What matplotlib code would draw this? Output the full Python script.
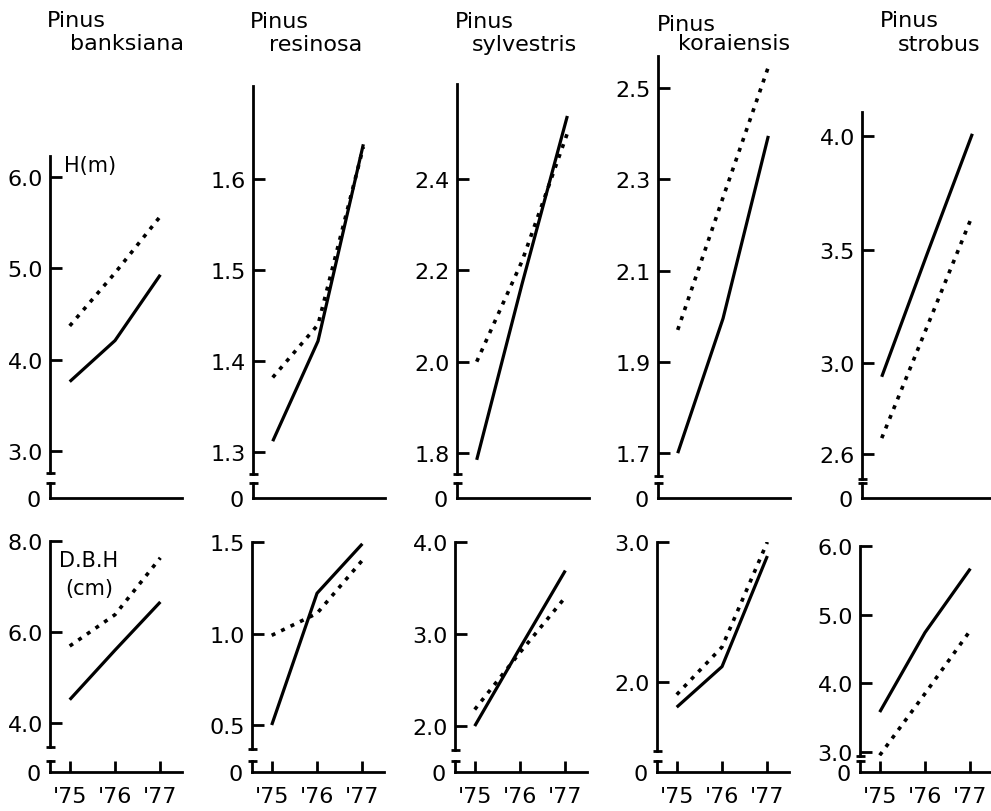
import matplotlib.pyplot as plt
from matplotlib.ticker import FormatStrFormatter

# figure size in pixels (dpi 100)
W, H = 991, 812

years = [75, 76, 77]
year_labels = ["'75", "'76", "'77"]
species = ["banksiana", "resinosa", "sylvestris", "koraiensis", "strobus"]

# Height H(m), solid and dotted series, for '75 '76 '77
banksiana_h_solid = [3.76, 4.21, 4.93]
banksiana_h_dotted = [4.37, 4.95, 5.57]
resinosa_h_solid = [1.312, 1.422, 1.638]
resinosa_h_dotted = [1.382, 1.44, 1.635]
sylvestris_h_solid = [1.785, 2.17, 2.538]
sylvestris_h_dotted = [2.0, 2.22, 2.50]
koraiensis_h_solid = [1.70, 1.995, 2.395]
koraiensis_h_dotted = [1.97, 2.26, 2.546]
strobus_h_solid = [2.94, 3.48, 4.01]
strobus_h_dotted = [2.67, 3.16, 3.65]

# Diameter D.B.H (cm)
banksiana_d_solid = [4.51, 5.6, 6.66]
banksiana_d_dotted = [5.69, 6.38, 7.63]
resinosa_d_solid = [0.5, 1.22, 1.49]
resinosa_d_dotted = [0.99, 1.11, 1.40]
sylvestris_d_solid = [2.0, 2.85, 3.69]
sylvestris_d_dotted = [2.18, 2.80, 3.40]
koraiensis_d_solid = [1.82, 2.11, 2.90]
koraiensis_d_dotted = [1.91, 2.25, 3.0]
strobus_d_solid = [3.58, 4.74, 5.67]
strobus_d_dotted = [2.95, 3.85, 4.77]

# tick values on the broken y axes
top_yticks = [[3, 4, 5, 6], [1.3, 1.4, 1.5, 1.6], [1.8, 2.0, 2.2, 2.4],
              [1.7, 1.9, 2.1, 2.3, 2.5], [2.6, 3.0, 3.5, 4.0]]
bottom_yticks = [[4, 6, 8], [0.5, 1.0, 1.5], [2, 3, 4], [2, 3], [3, 4, 5, 6]]

height_solid = [banksiana_h_solid, resinosa_h_solid, sylvestris_h_solid, koraiensis_h_solid, strobus_h_solid]
height_dotted = [banksiana_h_dotted, resinosa_h_dotted, sylvestris_h_dotted, koraiensis_h_dotted, strobus_h_dotted]
dbh_solid = [banksiana_d_solid, resinosa_d_solid, sylvestris_d_solid, koraiensis_d_solid, strobus_d_solid]
dbh_dotted = [banksiana_d_dotted, resinosa_d_dotted, sylvestris_d_dotted, koraiensis_d_dotted, strobus_d_dotted]

# layout (pixels)
top_lefts = [50, 253, 457, 658, 862]
bottom_lefts = [50, 252, 455, 657, 860]
top_tops = [157, 87, 85, 57, 113]
top_breaks = [474, 475, 475, 477, 480]
top_ylims = [(2.76, 6.23), (1.276, 1.702), (1.754, 2.608), (1.650, 2.570), (2.49, 4.106)]
bottom_tops = [542, 543, 543, 543, 547]
bottom_breaks = [748, 750, 751, 752, 757]
bottom_ylims = [(3.47, 8.0), (0.369, 1.5), (1.74, 4.0), (1.507, 3.0), (2.94, 6.0)]
panel_w = 132
xlim = (74.565, 77.478)

title_x = [(47, 70), (250, 269), (455, 472), (657, 678), (880, 898)]
title_y = [(27, 50), (28, 51), (28, 51), (31, 50), (27, 51)]

plt.rcParams['font.family'] = ['DejaVu Sans']
fig = plt.figure(figsize=(W / 100, H / 100), dpi=100)


def box(left, top, bottom, width):
    return [left / W, 1 - bottom / H, width / W, (bottom - top) / H]


def cap(ax, y):
    # small bar at the end of the broken y axis
    half = 4.5 / panel_w
    ax.plot([-half, half], [y, y], color='black', lw=2, transform=ax.transAxes,
            clip_on=False, solid_capstyle='butt')


def draw_panel(left, top, brk, base_top, baseline, ylim, yticks, solid, dotted, show_years):
    ax = fig.add_axes(box(left, top, brk, panel_w))
    ax.set_xlim(xlim)
    ax.set_ylim(ylim)
    for s in ['top', 'right', 'bottom']:
        ax.spines[s].set_visible(False)
    ax.spines['left'].set_linewidth(2)
    ax.set_xticks([])
    ax.set_yticks(yticks)
    ax.yaxis.set_major_formatter(FormatStrFormatter('%.1f'))
    ax.tick_params(axis='y', direction='in', length=8.5, width=2, pad=5, labelsize=16)
    ax.patch.set_visible(False)
    ax.plot(years, solid, color='black', lw=2.3, solid_capstyle='butt')
    ax.plot(years, dotted, color='black', lw=2.6, linestyle=(0, (1.1, 1.8)))
    cap(ax, 0)

    # lower part of the broken axis with the zero
    base = fig.add_axes(box(left, base_top, baseline, panel_w))
    base.set_xlim(xlim)
    base.set_ylim(0, 1)
    for s in ['top', 'right']:
        base.spines[s].set_visible(False)
    base.spines['left'].set_linewidth(2)
    base.spines['bottom'].set_linewidth(2)
    base.patch.set_visible(False)
    base.set_yticks([0])
    base.set_yticklabels(['0'])
    base.tick_params(axis='y', length=0, pad=7, labelsize=16)
    if show_years:
        base.set_xticks(years)
        base.set_xticklabels(year_labels)
        base.tick_params(axis='x', direction='in', length=8, width=2, pad=10, labelsize=16)
    else:
        base.set_xticks([])
    cap(base, 1)
    return ax


for i in range(5):
    draw_panel(top_lefts[i], top_tops[i], top_breaks[i], 484, 499, top_ylims[i],
               top_yticks[i], height_solid[i], height_dotted[i], False)
    draw_panel(bottom_lefts[i], bottom_tops[i], bottom_breaks[i], 762, 773, bottom_ylims[i],
               bottom_yticks[i], dbh_solid[i], dbh_dotted[i], True)

    # species names
    fig.text(title_x[i][0] / W, 1 - title_y[i][0] / H, "Pinus", fontsize=16, va='baseline')
    fig.text(title_x[i][1] / W, 1 - title_y[i][1] / H, species[i], fontsize=16, va='baseline')

# axis names written inside the first panels
fig.text(64 / W, 1 - 166 / H, "H(m)", fontsize=15, va='center')
fig.text(59 / W, 1 - 561 / H, "D.B.H", fontsize=15, va='center')
fig.text(65 / W, 1 - 589 / H, "(cm)", fontsize=15, va='center')

fig.savefig('out.png', dpi=100)
